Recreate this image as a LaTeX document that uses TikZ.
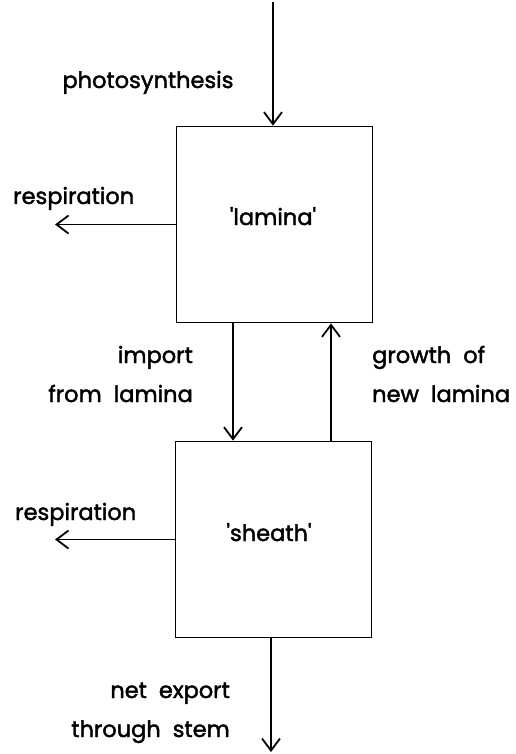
\documentclass[tikz,border=0pt]{standalone}
\usepackage{fontspec}
\newfontfamily\labelfont[FakeBold=1.8]{Poppins}
\usetikzlibrary{arrows.meta}
\tikzset{
  x=1pt,y=-1pt,
  boxnode/.style={draw,line width=1.8pt,minimum width=196pt,minimum height=196pt,inner sep=0pt},
  flow/.style={line width=1.8pt,-{Straight Barb[length=12pt,width=18pt,line width=1.8pt]}},
  lbl/.style={inner sep=0pt,font=\labelfont\fontsize{22.5}{27}\selectfont}
}
\begin{document}
\begin{tikzpicture}
\useasboundingbox (0,0) rectangle (515,754);
% boxes
\node[boxnode] (lamina) at (274.5,224.5) {};
\node[boxnode] (sheath) at (273.5,539.5) {};
% coordinates for free ends
\coordinate (src) at (273,2);
\coordinate (resp1) at (55,224.5);
\coordinate (resp2) at (55,539.5);
\coordinate (imp) at (233,0);
\coordinate (grw) at (331,0);
\coordinate (exp) at (271,752);
% connectors
\draw[flow] (src) -- (src |- lamina.north);
\draw[flow] (lamina.west) -- (resp1);
\draw[flow] (imp |- lamina.south) -- (imp |- sheath.north);
\draw[flow] (grw |- sheath.north) -- (grw |- lamina.south);
\draw[flow] (sheath.west) -- (resp2);
\draw[flow] (exp |- sheath.south) -- (exp);
% labels
\node[lbl,anchor=base] (tphoto) at (148,88) {photosynthesis};
\node[lbl,anchor=base west] (tresp1) at (13,204) {respiration};
\node[lbl,anchor=base] (tlamina) at (273,225) {'lamina'};
\node[lbl,anchor=base east] (timp1) at (193,363) {import};
\node[lbl,anchor=base east] (timp2) at (193,402) {from\ \ lamina};
\node[lbl,anchor=base west] (tgrw1) at (372,363) {growth\ \ of};
\node[lbl,anchor=base west] (tgrw2) at (372,402) {new\ \ lamina};
\node[lbl,anchor=base west] (tresp2) at (15,520) {respiration};
\node[lbl,anchor=base] (tsheath) at (269,541) {'sheath'};
\node[lbl,anchor=base east] (texp1) at (230,698) {net\ \ export};
\node[lbl,anchor=base east] (texp2) at (230,737) {through\ \ stem};
\end{tikzpicture}
\end{document}
